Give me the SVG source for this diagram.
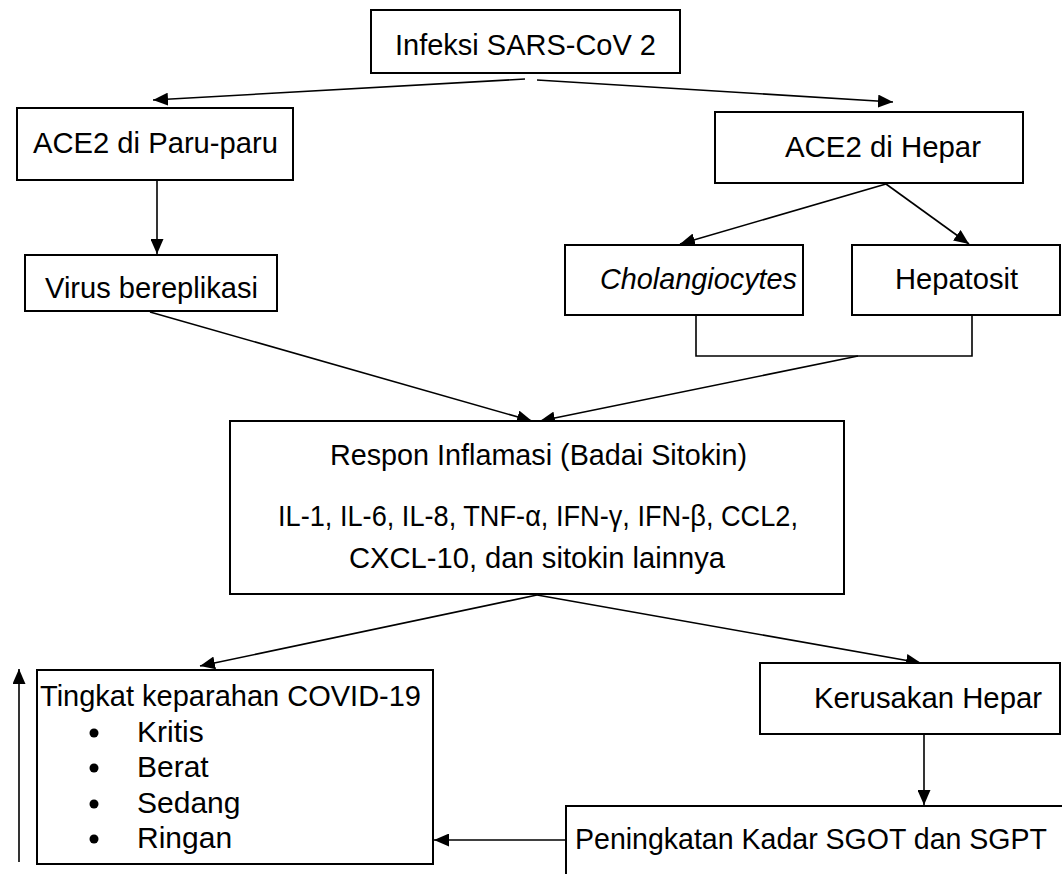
<svg xmlns="http://www.w3.org/2000/svg" width="1062" height="874" viewBox="0 0 1062 874">
<style>
.box{fill:#fff;stroke:#000;stroke-width:2}
.open{fill:none;stroke:#000;stroke-width:2}
.t{font-family:"Liberation Sans",Arial,sans-serif;font-size:30px;fill:#000}
.it{font-style:italic}
.c{fill:none;stroke:#000;stroke-width:1.6}
</style>
<defs>
<marker id="ah" viewBox="0 0 15 13" refX="15" refY="6.5" markerWidth="15" markerHeight="13" markerUnits="userSpaceOnUse" orient="auto">
<path d="M0,0 L15,6.5 L0,13 Z" fill="#000"/>
</marker>
</defs>
<rect width="1062" height="874" fill="#fff"/>
<g id="connectors">
<line class="c" x1="525" y1="79" x2="153" y2="100" marker-end="url(#ah)"/>
<line class="c" x1="537" y1="80" x2="893" y2="102" marker-end="url(#ah)"/>
<line class="c" x1="157" y1="180" x2="157" y2="254" marker-end="url(#ah)"/>
<line class="c" x1="886" y1="184" x2="680" y2="244" marker-end="url(#ah)"/>
<line class="c" x1="886" y1="184" x2="969" y2="244" marker-end="url(#ah)"/>
<polyline class="c" points="696,315 696,356 972,356 972,315"/>
<line class="c" x1="150" y1="312" x2="532" y2="421" marker-end="url(#ah)"/>
<line class="c" x1="858" y1="356" x2="540" y2="421" marker-end="url(#ah)"/>
<line class="c" x1="537" y1="595" x2="200" y2="666" marker-end="url(#ah)"/>
<line class="c" x1="537" y1="595" x2="921" y2="663" marker-end="url(#ah)"/>
<line class="c" x1="924" y1="734" x2="924" y2="805" marker-end="url(#ah)"/>
<line class="c" x1="566" y1="840" x2="434" y2="840" marker-end="url(#ah)"/>
<line class="c" x1="19" y1="862" x2="19" y2="669" marker-end="url(#ah)"/>
</g>
<g id="n-infeksi">
<rect class="box" x="371" y="10" width="309" height="63"/>
<text class="t" x="395" y="55" textLength="261" lengthAdjust="spacingAndGlyphs">Infeksi SARS-CoV 2</text>
</g>
<g id="n-paru">
<rect class="box" x="17" y="108" width="276" height="72"/>
<text class="t" x="33" y="153" textLength="245" lengthAdjust="spacingAndGlyphs">ACE2 di Paru-paru</text>
</g>
<g id="n-virus">
<rect class="box" x="25" y="255" width="252" height="56"/>
<text class="t" x="45" y="298" textLength="213" lengthAdjust="spacingAndGlyphs">Virus bereplikasi</text>
</g>
<g id="n-hepar">
<rect class="box" x="715" y="112" width="308" height="71"/>
<text class="t" x="785" y="157" textLength="196" lengthAdjust="spacingAndGlyphs">ACE2 di Hepar</text>
</g>
<g id="n-cholangiocytes">
<rect class="box" x="565" y="245" width="238" height="70"/>
<text class="t it" x="600" y="289" textLength="197" lengthAdjust="spacingAndGlyphs">Cholangiocytes</text>
</g>
<g id="n-hepatosit">
<rect class="box" x="852" y="245" width="208" height="70"/>
<text class="t" x="895" y="289" textLength="123" lengthAdjust="spacingAndGlyphs">Hepatosit</text>
</g>
<g id="n-respon">
<rect class="box" x="230" y="421" width="614" height="173"/>
<text class="t" x="330" y="465" textLength="417" lengthAdjust="spacingAndGlyphs">Respon Inflamasi (Badai Sitokin)</text>
<text class="t" x="278" y="526" textLength="520" lengthAdjust="spacingAndGlyphs">IL-1, IL-6, IL-8, TNF-α, IFN-γ, IFN-β, CCL2,</text>
<text class="t" x="349" y="568" textLength="376" lengthAdjust="spacingAndGlyphs">CXCL-10, dan sitokin lainnya</text>
</g>
<g id="n-tingkat">
<rect class="box" x="37" y="670" width="396" height="194"/>
<text class="t" x="40" y="706" textLength="381" lengthAdjust="spacingAndGlyphs">Tingkat keparahan COVID-19</text>
<circle cx="94" cy="733" r="4.5"/>
<text class="t" x="137" y="742">Kritis</text>
<circle cx="94" cy="768" r="4.5"/>
<text class="t" x="137" y="777">Berat</text>
<circle cx="94" cy="804" r="4.5"/>
<text class="t" x="137" y="813">Sedang</text>
<circle cx="94" cy="839" r="4.5"/>
<text class="t" x="137" y="848">Ringan</text>
</g>
<g id="n-kerusakan">
<rect class="box" x="760" y="663" width="300" height="71"/>
<text class="t" x="814" y="708" textLength="228" lengthAdjust="spacingAndGlyphs">Kerusakan Hepar</text>
</g>
<g id="n-peningkatan">
<rect x="566" y="806" width="496" height="68" fill="#fff"/>
<polyline class="open" points="566,874 566,806 1062,806"/>
<text class="t" x="575" y="849" textLength="472" lengthAdjust="spacingAndGlyphs">Peningkatan Kadar SGOT dan SGPT</text>
</g>
</svg>
